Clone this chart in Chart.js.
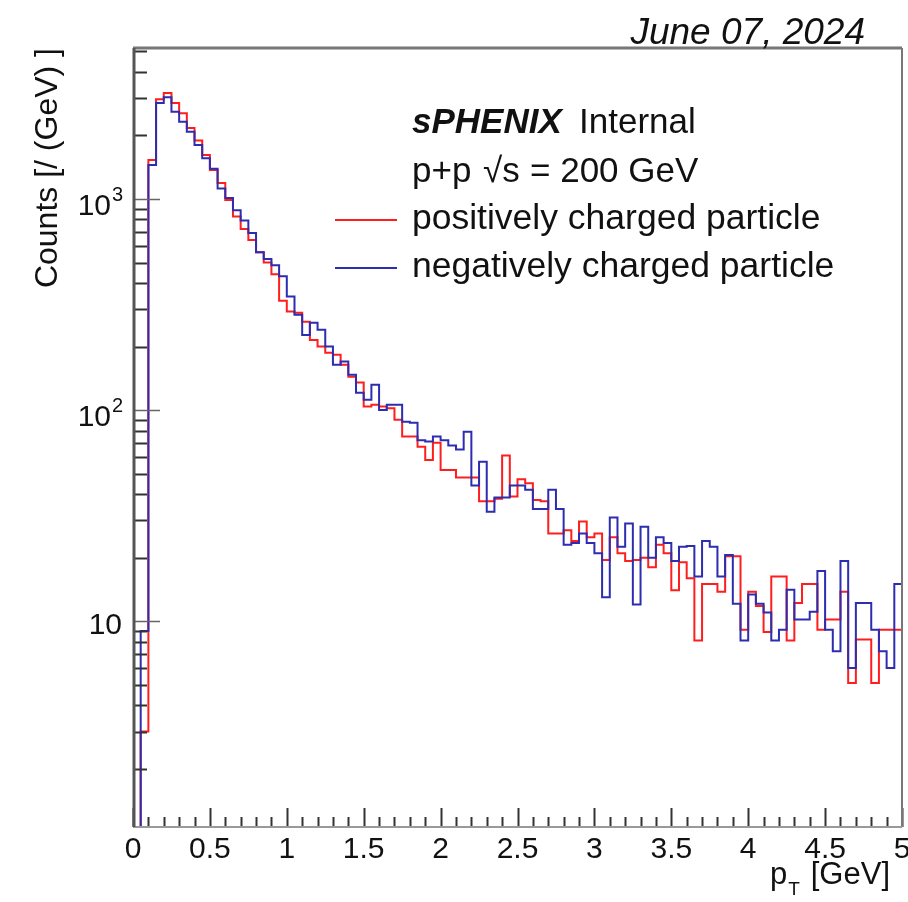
<!DOCTYPE html>
<html>
<head>
<meta charset="utf-8">
<title>pT spectra</title>
<script src="https://cdn.jsdelivr.net/npm/chart.js@4.4.1/dist/chart.umd.min.js"></script>
<style>
  html, body { margin: 0; padding: 0; background: #fff; }
  canvas { display: block; }
</style>
</head>
<body>
<canvas id="ptChart" width="908" height="902"></canvas>
<script>
// pT spectra of charged particles, 100 bins of 0.05 GeV
const binWidth = 0.05;

const posCounts = [
  0.5, 3, 1530, 2970, 3180, 2850, 2550, 2170, 1890, 1615,
  1370, 1190, 990, 825, 720, 640, 560, 500, 440, 330,
  293, 289, 262, 215, 200, 187, 183, 164, 144, 135,
  104, 106, 104, 102, 90, 75, 75, 67, 58, 70,
  52, 52, 48, 48, 48, 37, 37, 38, 61, 39,
  47, 45, 37.5, 37, 26, 26, 27, 24, 29.7, 25,
  26, 19.5, 25, 21, 19.3, 19.5, 20, 18, 23, 21,
  14, 19, 16, 8.1, 15, 15, 13.8, 20.3, 20.3, 9.1,
  13.8, 11.8, 8.9, 16.3, 16.3, 8.1, 12.2, 15, 15, 9.1,
  10.2, 10.2, 13.8, 5.1, 8.2, 8.2, 5.1, 9.1, 9.1, 9.1
];

const negCounts = [
  0.5, 9, 1450, 2850, 3030, 2590, 2320, 2080, 1800, 1560,
  1390, 1120, 1010, 885, 790, 690, 560, 520, 485, 430,
  345, 283, 227, 259, 240, 200, 164, 170, 147, 121,
  112, 132, 100, 106, 106, 88, 87, 72, 71, 75,
  72, 68, 65, 79, 44, 57, 33, 38.5, 38.5, 44,
  44, 42, 34, 34, 42, 34, 23, 23.5, 26, 23.5,
  21, 13, 31, 22.5, 29, 12, 28, 20, 25, 23.5,
  19.3, 22.5, 22.7, 16.3, 24, 22.5, 16.3, 20.6, 12.1, 8.1,
  13.4, 12.1, 11, 8.1, 9.1, 14.1, 10.2, 10.2, 11.1, 17.3,
  9.1, 7.2, 19.3, 6.0, 12.2, 12.2, 9.1, 7.2, 6.0, 15
];

const xTicks = [0, 0.5, 1, 1.5, 2, 2.5, 3, 3.5, 4, 4.5, 5];
const xTickLabels = ["0", "0.5", "1", "1.5", "2", "2.5", "3", "3.5", "4", "4.5", "5"];
const yTicks = [10, 100, 1000];
const yTickExp = ["", "2", "3"];

const FONT = '"Liberation Sans", Arial, Helvetica, sans-serif';

// histogram -> step points at the lower bin edges, closed at the upper edge
function toSteps(counts) {
  const pts = counts.map((c, i) => ({ x: i * binWidth, y: c }));
  pts.push({ x: counts.length * binWidth, y: counts[counts.length - 1] });
  return pts;
}

// ROOT-like frame: ticks inside, labels, titles, legend, date
const rootFrame = {
  id: "rootFrame",
  afterDraw(chart) {
    const { ctx, chartArea: a, scales } = chart;
    const x = scales.x, y = scales.y;
    ctx.save();

    // ticks
    ctx.strokeStyle = "#333";
    ctx.lineWidth = 2;
    ctx.beginPath();
    for (let k = 0; k <= 50; k++) {
      const px = Math.round(x.getPixelForValue(k / 10)) + 0.5;
      const len = k % 5 === 0 ? 19 : 10;
      ctx.moveTo(px, a.bottom);
      ctx.lineTo(px, a.bottom - len);
    }
    for (let d = 1; d <= 1000; d *= 10) {
      for (let m = 2; m <= 9; m++) {
        const v = m * d;
        if (v < y.min || v > y.max) continue;
        const py = Math.round(y.getPixelForValue(v)) + 0.5;
        ctx.moveTo(a.left, py);
        ctx.lineTo(a.left + 14, py);
      }
    }
    ctx.stroke();
    ctx.strokeStyle = "#666";
    ctx.lineWidth = 1.5;
    ctx.beginPath();
    yTicks.forEach(v => {
      const py = Math.round(y.getPixelForValue(v)) + 0.5;
      ctx.moveTo(a.left, py);
      ctx.lineTo(a.left + 27, py);
    });
    ctx.stroke();

    // frame
    ctx.strokeStyle = "#777";
    ctx.lineWidth = 3;
    ctx.beginPath();
    ctx.moveTo(a.left, a.top);
    ctx.lineTo(a.right, a.top);
    ctx.stroke();
    ctx.lineWidth = 2;
    ctx.beginPath();
    ctx.moveTo(a.right, a.top);
    ctx.lineTo(a.right, a.bottom);
    ctx.stroke();
    ctx.strokeStyle = "#999";
    ctx.beginPath();
    ctx.moveTo(a.left, a.bottom);
    ctx.lineTo(a.right, a.bottom);
    ctx.stroke();
    ctx.strokeStyle = "#555";
    ctx.lineWidth = 3;
    ctx.beginPath();
    ctx.moveTo(a.left + 1, a.top);
    ctx.lineTo(a.left + 1, a.bottom);
    ctx.stroke();

    ctx.fillStyle = "#111";
    ctx.textBaseline = "alphabetic";

    // x tick labels
    ctx.font = "30px " + FONT;
    ctx.textAlign = "center";
    xTicks.forEach((v, i) => {
      ctx.fillText(xTickLabels[i], x.getPixelForValue(v), 858);
    });

    // y tick labels (10, 10^2, 10^3)
    yTicks.forEach((v, i) => {
      const py = y.getPixelForValue(v);
      ctx.textAlign = "right";
      ctx.font = "30px " + FONT;
      if (yTickExp[i] === "") {
        ctx.fillText("10", 122, py + 13);
      } else {
        ctx.fillText("10", 111, py + 16);
        ctx.font = "20px " + FONT;
        ctx.fillText(yTickExp[i], 123, py + 2);
      }
    });

    // axis titles
    ctx.save();
    ctx.translate(57, a.top);
    ctx.rotate(-Math.PI / 2);
    ctx.textAlign = "right";
    ctx.font = "32px " + FONT;
    ctx.fillText("Counts [/ (GeV) ]", 0, 0);
    ctx.restore();

    ctx.textAlign = "left";
    ctx.font = "31px " + FONT;
    ctx.fillText("p", 770, 884);
    const pw = ctx.measureText("p").width;
    ctx.font = "19px " + FONT;
    ctx.fillText("T", 770 + pw + 1, 895);
    ctx.font = "31px " + FONT;
    ctx.textAlign = "right";
    ctx.fillText("[GeV]", 890, 884);

    // date
    ctx.font = "italic 37px " + FONT;
    ctx.textAlign = "right";
    ctx.fillText("June 07, 2024", 865, 44);

    // legend block
    ctx.textAlign = "left";
    ctx.font = "italic bold 35px " + FONT;
    ctx.fillText("sPHENIX", 412, 133);
    ctx.font = "35px " + FONT;
    ctx.fillText("Internal", 579, 133);
    ctx.fillText("p+p", 412, 182);
    ctx.fillText("\u221As", 483, 182);
    ctx.fillText("= 200 GeV", 530, 182);

    const rows = [220, 268];
    ctx.font = "35.5px " + FONT;
    chart.data.datasets.forEach((ds, i) => {
      ctx.strokeStyle = ds.borderColor;
      ctx.lineWidth = 2;
      ctx.beginPath();
      ctx.moveTo(335, rows[i]);
      ctx.lineTo(397, rows[i]);
      ctx.stroke();
      ctx.fillText(ds.label, 412, rows[i] + 9);
    });

    ctx.restore();
  }
};

const ctx = document.getElementById("ptChart").getContext("2d");

new Chart(ctx, {
  type: "line",
  data: {
    datasets: [
      {
        label: "positively charged particle",
        data: toSteps(posCounts),
        borderColor: "rgb(255, 30, 30)",
        borderWidth: 2,
        stepped: "before",
        order: 1
      },
      {
        label: "negatively charged particle",
        data: toSteps(negCounts),
        borderColor: "rgb(45, 45, 175)",
        borderWidth: 2,
        stepped: "before",
        order: 0
      }
    ]
  },
  options: {
    responsive: false,
    animation: false,
    devicePixelRatio: 1,
    layout: { padding: { top: 48, right: 6, left: 0, bottom: 0 } },
    elements: { point: { radius: 0 }, line: { tension: 0, fill: false } },
    plugins: { legend: { display: false }, tooltip: { enabled: false } },
    scales: {
      x: {
        type: "linear",
        min: 0,
        max: 5,
        grid: { display: false },
        border: { display: false },
        ticks: { display: false },
        afterFit(s) { s.height = 75; }
      },
      y: {
        type: "logarithmic",
        min: 1.06,
        max: 5190,
        grid: { display: false },
        border: { display: false },
        ticks: { display: false },
        afterFit(s) { s.width = 133; }
      }
    }
  },
  plugins: [rootFrame]
});
</script>
</body>
</html>
